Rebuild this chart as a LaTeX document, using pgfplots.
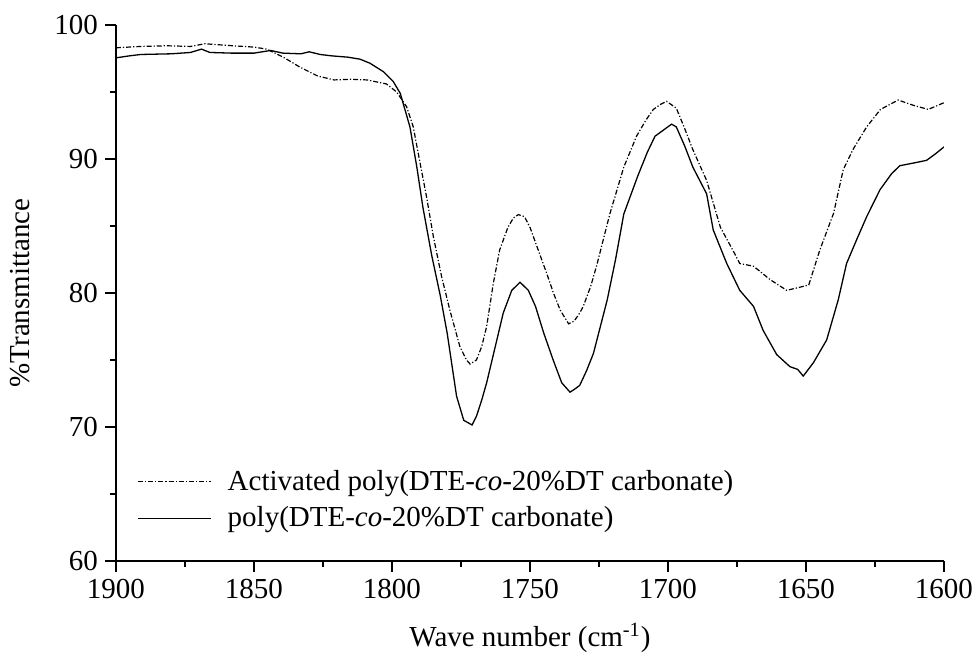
\documentclass[border=0pt]{standalone}
\usepackage{fontspec}
\setmainfont{Liberation Serif}
\usepackage{pgfplots}
\pgfplotsset{compat=1.18}
\begin{document}
\begin{tikzpicture}
\path[use as bounding box] (-58pt,-54.5pt) rectangle (430pt,280.5pt);
\begin{axis}[
  at={(0,0)}, anchor=south west,
  scale only axis, width=414pt, height=268pt,
  x dir=reverse,
  xmin=1600, xmax=1900, ymin=60, ymax=100,
  xtick={1600,1650,1700,1750,1800,1850,1900},
  ytick={60,70,80,90,100},
  minor tick num=1,
  axis lines=left,
  axis line style={-, line width=0.75pt, black},
  tick style={line width=0.75pt, black},
  tick align=outside,
  major tick length=5.5pt, minor tick length=3pt,
  /pgf/number format/assume math mode=true,
  /pgf/number format/1000 sep={},
  ticklabel style={font=\fontsize{14.5}{17}\selectfont},
  xlabel={Wave number (cm\textsuperscript{-1})},
  ylabel={\%Transmittance},
  every axis x label/.style={at={(axis description cs:0.5,-0.1437)}, anchor=center, font=\fontsize{14.5}{17}\selectfont},
  every axis y label/.style={at={(axis description cs:-0.116,0.5)}, anchor=center, rotate=90, font=\fontsize{14.5}{17}\selectfont},
  legend style={at={(axis description cs:0.0254,0.114)}, anchor=west, draw=none, fill=none,
    font=\fontsize{14.5}{17}\selectfont, inner sep=0pt, nodes={inner sep=0pt}, row sep=6.8pt, column sep=8pt},
  legend cell align=left,
  legend image code/.code={\draw[#1] (0pt,0pt) -- (36.5pt,0pt);},
]
\addplot[black, line width=0.6pt, dash pattern=on 2.5pt off 1pt on 0.6pt off 1pt] coordinates {
(1900,98.3)(1891,98.4)(1881.6,98.45)(1873,98.4)(1867.8,98.6)(1857.6,98.45)(1850,98.35)
(1845.4,98.2)(1839.4,97.6)(1833.3,96.85)(1827,96.2)(1821,95.9)(1815,95.95)(1809,95.9)
(1802,95.6)(1798.3,95.0)(1794.7,93.9)(1792.3,92.4)(1790,89.9)(1787.5,87.2)(1785,84.2)
(1782,81.2)(1779,78.7)(1775.4,76.0)(1773,75.0)(1771.7,74.7)(1769.4,75.0)(1767.5,76.0)
(1765.7,77.5)(1763.3,80.7)(1761,83.2)(1758,84.9)(1756,85.6)(1754.2,85.85)(1752,85.7)
(1750,84.9)(1747,83.2)(1744,81.5)(1741.5,80.0)(1739,78.7)(1736,77.7)(1734,77.9)
(1732,78.5)(1730.7,79.0)(1728,80.5)(1725.9,82.0)(1721,85.95)(1716,89.4)(1711.4,91.7)
(1708,92.9)(1705.3,93.7)(1702.5,94.1)(1700.5,94.3)(1697,93.8)(1694,92.3)(1691,90.7)
(1686,88.4)(1681,84.9)(1676,83.0)(1674,82.2)(1669,82.0)(1663,81.0)(1657,80.2)
(1652.8,80.4)(1649,80.6)(1645,83.2)(1640,85.95)(1636.5,89.2)(1633,90.7)(1628,92.4)
(1623,93.7)(1616.6,94.4)(1611,94.0)(1605.7,93.7)(1600,94.2)
};
\addlegendentry{Activated poly(DTE-\textit{co}-20\%DT carbonate)}
\addplot[black, line width=0.65pt] coordinates {
(1900,97.55)(1895,97.7)(1891,97.8)(1880,97.85)(1873,97.95)(1869,98.2)(1866,97.95)
(1858,97.9)(1850,97.9)(1844,98.1)(1839.5,97.9)(1833,97.85)(1830,98.0)(1826,97.8)
(1822,97.7)(1816,97.6)(1811.6,97.45)(1808,97.15)(1803,96.5)(1799.6,95.8)(1797,94.9)
(1793.5,92.4)(1791,89.4)(1788.8,86.4)(1785.6,82.8)(1782.5,79.8)(1780,77.0)(1776.6,72.3)
(1774,70.5)(1771,70.15)(1769.4,70.8)(1767.5,72.0)(1765.7,73.3)(1762,76.5)(1759.7,78.5)
(1756.6,80.2)(1753.6,80.8)(1750.6,80.2)(1748,79.0)(1745,77.0)(1741.6,75.0)(1738.5,73.3)
(1735.5,72.6)(1734,72.8)(1732,73.1)(1729.5,74.2)(1727,75.5)(1722,79.5)(1719,82.5)
(1716,85.9)(1711,88.7)(1707.5,90.5)(1704.7,91.7)(1698.7,92.6)(1697,92.4)(1694,91.0)
(1691,89.4)(1686,87.4)(1683.6,84.7)(1678.7,82.2)(1674,80.2)(1669,79.0)(1665.5,77.2)
(1660.6,75.4)(1655.8,74.5)(1653,74.3)(1651,73.8)(1647.3,74.8)(1642.5,76.5)(1638.3,79.5)
(1635.3,82.2)(1631.6,84.0)(1628,85.7)(1623.2,87.7)(1619,88.9)(1616,89.5)(1611,89.7)
(1606.3,89.9)(1603,90.4)(1600,90.9)
};
\addlegendentry{poly(DTE-\textit{co}-20\%DT carbonate)}
\end{axis}
\end{tikzpicture}
\end{document}
